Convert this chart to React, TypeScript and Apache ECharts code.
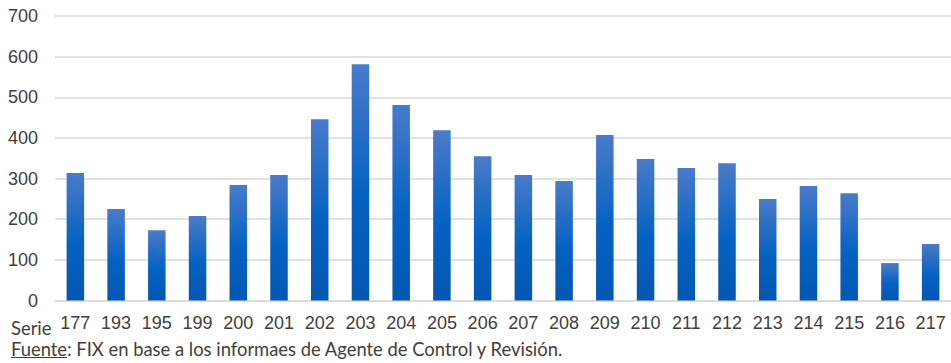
import React, { useEffect, useRef } from "react";
import * as echarts from "echarts";

const categories = ["177", "193", "195", "199", "200", "201", "202", "203", "204", "205", "206", "207", "208", "209", "210", "211", "212", "213", "214", "215", "216", "217"];
const values = [314, 225, 173, 208, 284, 309, 446, 581, 481, 419, 355, 309, 294, 407, 348, 326, 338, 250, 282, 264, 92, 139];
const yTicks = { min: 0, max: 700, interval: 100 };
const axisTitle = "Serie";
const sourceLabel = "Fuente";
const sourceText = ": FIX en base a los informaes de Agente de Control y Revisión.";

export default function App() {
  const ref = useRef<HTMLDivElement>(null);
  useEffect(() => {
    if (!ref.current) return;
    const chart = echarts.init(ref.current, null, { renderer: "svg" });
    chart.setOption({
      animation: false,
      grid: { left: 55, top: 16, width: 902, height: 284.5, containLabel: false },
      xAxis: {
        type: "category",
        data: categories,
        axisLine: { show: true, lineStyle: { color: "#d9d9d9", width: 1.5 } },
        axisTick: { show: false },
        axisLabel: { color: "#404040", fontSize: 18, fontFamily: "Liberation Sans, Arial, sans-serif", margin: 13, interval: 0 },
      },
      yAxis: {
        type: "value",
        min: yTicks.min,
        max: yTicks.max,
        interval: yTicks.interval,
        axisLine: { show: false },
        axisTick: { show: false },
        splitLine: { lineStyle: { color: "#d9d9d9", width: 1.5 } },
        axisLabel: { color: "#404040", fontSize: 18, fontFamily: "Liberation Sans, Arial, sans-serif", margin: 17 },
      },
      series: [
        {
          type: "bar",
          data: values,
          barWidth: 17.5,
          itemStyle: {
            color: new echarts.graphic.LinearGradient(0, 0, 0, 1, [
              { offset: 0, color: "#4a7bc9" },
              { offset: 0.55, color: "#0562c2" },
              { offset: 1, color: "#0457b2" },
            ]),
          },
        },
      ],
      graphic: [
        {
          type: "text",
          left: 11,
          top: 318.5,
          style: { text: axisTitle, fill: "#404040", font: "18.4px Lato, sans-serif" },
        },
        {
          type: "text",
          left: 11,
          top: 339.5,
          style: { text: sourceLabel, fill: "#404040", font: "18.4px Lato, sans-serif" },
        },
        {
          type: "line",
          shape: { x1: 11, y1: 357.5, x2: 67, y2: 357.5 },
          style: { stroke: "#404040", lineWidth: 1 },
        },
        {
          type: "text",
          left: 67,
          top: 339.5,
          style: { text: sourceText, fill: "#404040", font: "18.4px Lato, sans-serif" },
        },
      ],
    });
    return () => chart.dispose();
  }, []);
  return <div ref={ref} style={{ position: "absolute", left: 0, top: 0, width: 951, height: 363 }} />;
}
